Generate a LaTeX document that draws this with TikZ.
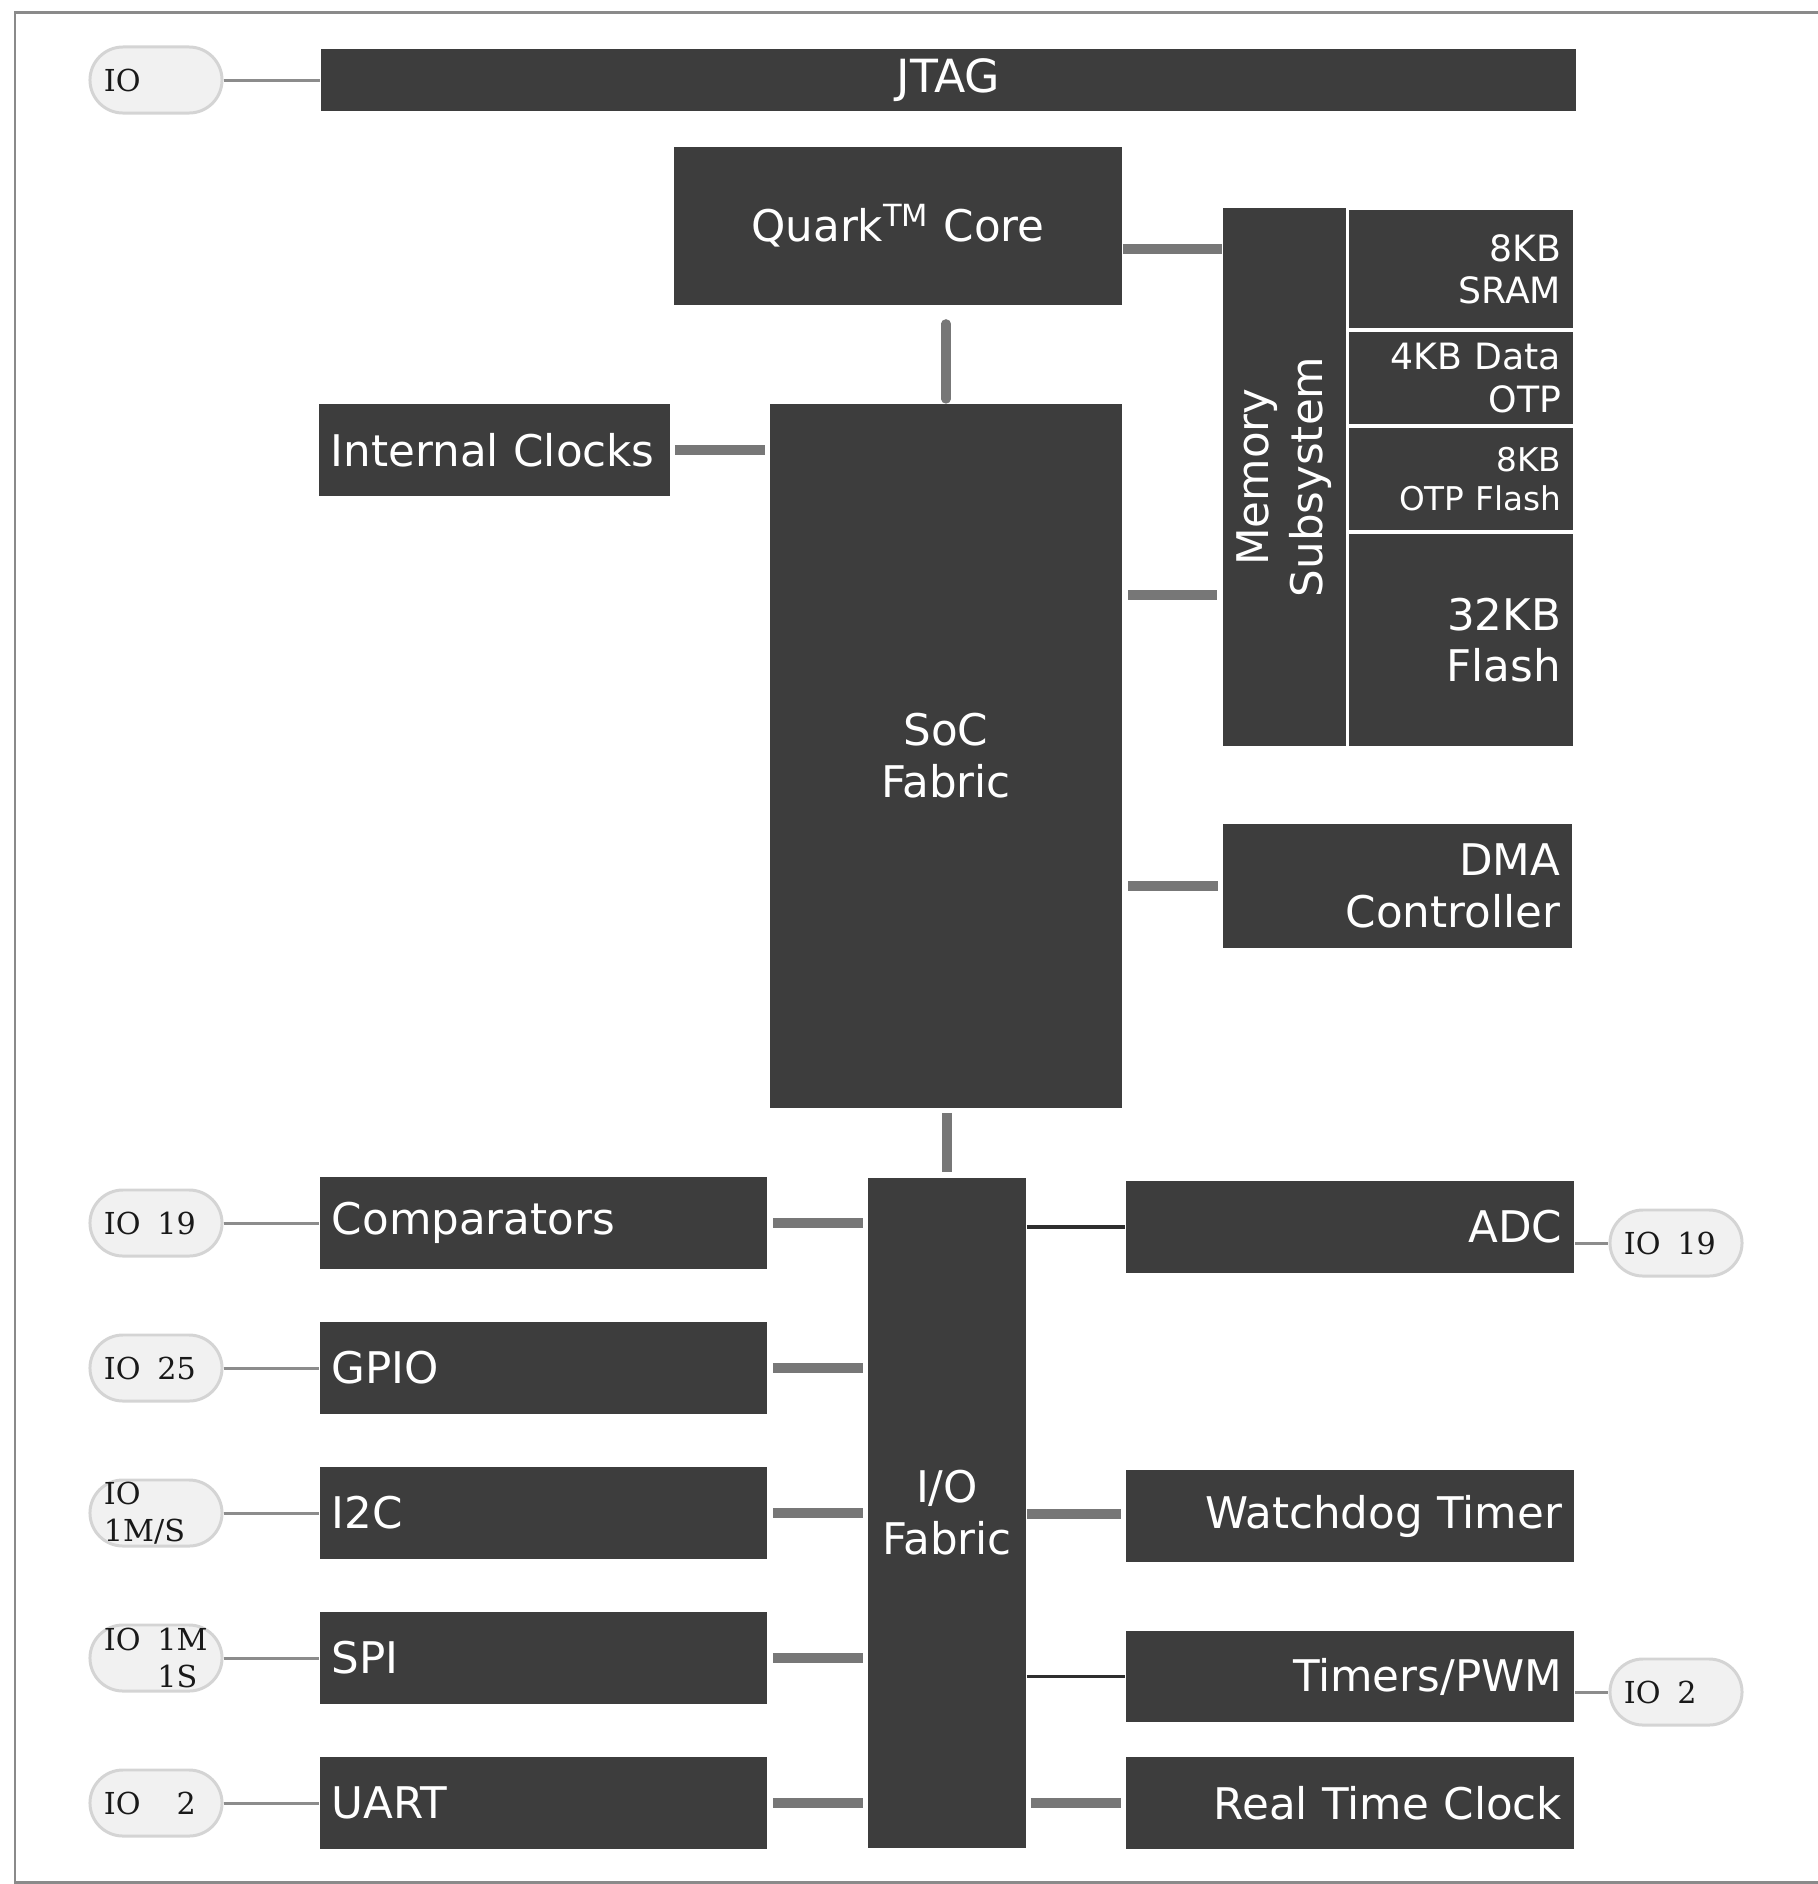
\documentclass[tikz,border=0pt]{standalone}
\usepackage{fontspec}
\setmainfont{DejaVu Sans}
\newfontfamily\pillfont{DejaVu Serif}
\definecolor{boxc}{HTML}{3D3D3D}
\definecolor{connc}{HTML}{777777}
\definecolor{thinc}{HTML}{2E2E2E}
\definecolor{pillline}{HTML}{8C8C8C}
\definecolor{pillfill}{HTML}{F1F1F1}
\definecolor{pilldraw}{HTML}{D4D4D4}
\definecolor{framec}{HTML}{8A8A8A}
\newcommand{\iogap}{\hspace{0.55em}}
\begin{document}
\begin{tikzpicture}[x=0.01cm,y=-0.01cm,
  blk/.style={fill=boxc, text=white, inner ysep=0pt, inner xsep=0.12cm,
              font=\fontsize{12.4}{14.8}\selectfont},
  lbox/.style={blk, minimum height=0.91cm, text width=4.23cm, align=left},
  rbox/.style={blk, minimum height=0.91cm, text width=4.24cm, align=right},
  membox/.style={blk, text width=2.00cm, align=right},
  pill/.style={rectangle, rounded corners=0.33cm, fill=pillfill, draw=pilldraw,
               line width=0.85pt, minimum height=0.66cm, text width=1.04cm,
               inner xsep=0.14cm, inner ysep=0pt, align=left, text=black!90,
               font=\pillfont\fontsize{8.6}{10.5}\selectfont},
  conn/.style={draw=connc, line width=2.6pt},
  darkline/.style={draw=thinc, line width=1.1pt},
  thinline/.style={draw=pillline, line width=0.85pt}]

\useasboundingbox (0,0) rectangle (1818,1884);
\draw[framec, line width=0.85pt] (1830,12) -- (15,12) -- (15,1882) -- (1830,1882);

% top
\node[pill] (pj) at (156,80) {IO};
\node[blk, minimum width=12.55cm, minimum height=0.61cm, font=\fontsize{13}{15}\selectfont] (jtag) at (948.5,80) {JTAG};

\node[blk, minimum width=4.48cm, minimum height=1.58cm] (quark) at (898,226) {Quark\textsuperscript{TM} Core};
\node[blk, minimum width=3.51cm, minimum height=0.92cm, text width=3.27cm, align=left] (clk) at (494.5,450) {\mbox{Internal Clocks}};
\node[blk, minimum width=3.52cm, minimum height=7.04cm, align=center] (soc) at (946,756) {SoC\\Fabric};

% memory
\node[blk, rotate=90, minimum width=5.38cm, minimum height=1.23cm, align=center,
      font=\fontsize{12.4}{15.4}\selectfont] (mem) at (1284.5,477) {Memory\\Subsystem};
\node[membox, minimum height=1.18cm, font=\fontsize{10.3}{12}\selectfont] (sram) at (1461,269) {8KB\\SRAM};
\node[membox, minimum height=0.92cm, font=\fontsize{10.3}{12.3}\selectfont] (dotp) at (1461,378) {4KB Data\\OTP};
\node[membox, minimum height=1.02cm, font=\fontsize{9.3}{11.3}\selectfont] (otpf) at (1461,479) {8KB\\OTP Flash};
\node[membox, minimum height=2.12cm, font=\fontsize{12.4}{14.3}\selectfont] (flash) at (1461,640) {32KB\\Flash};

\node[blk, minimum height=1.24cm, text width=3.25cm, align=right] (dma) at (1397.5,886) {DMA\\Controller};

% io fabric
\node[blk, minimum width=1.58cm, minimum height=6.70cm, align=center] (iof) at (947,1513) {I/O\\Fabric};

% left column
\node[lbox] (cmp) at (543.5,1223) {Comparators};
\node[lbox] (gpio) at (543.5,1368) {GPIO};
\node[lbox] (i2c) at (543.5,1513) {I2C};
\node[lbox] (spi) at (543.5,1658) {SPI};
\node[lbox] (uart) at (543.5,1803) {UART};

\node[pill] (p1) at (156,1223) {\mbox{IO\iogap 19}};
\node[pill] (p2) at (156,1368) {\mbox{IO\iogap 25}};
\node[pill] (p3) at (156,1513) {IO\\1M/S};
\node[pill] (p4) at (156,1658) {\mbox{IO\iogap 1M}\\\mbox{\hphantom{IO\iogap}1S}};
\node[pill] (p5) at (156,1803) {\mbox{IO\iogap\hphantom{1}2}};

% right column
\node[rbox] (adc) at (1350,1227) {ADC};
\node[rbox] (wdt) at (1350,1516) {Watchdog Timer};
\node[rbox] (tim) at (1350,1676.5) {Timers/PWM};
\node[rbox] (rtc) at (1350,1803) {Real Time Clock};

\node[pill] (pr1) at (1676,1243) {\mbox{IO\iogap 19}};
\node[pill] (pr2) at (1676,1692) {\mbox{IO\iogap 2}};

% thin pill connectors
\draw[thinline] (pj.east) -- (jtag.west |- pj.east);
\draw[thinline] (p1.east) -- (cmp.west);
\draw[thinline] (p2.east) -- (gpio.west);
\draw[thinline] (p3.east) -- (i2c.west);
\draw[thinline] (p4.east) -- (spi.west);
\draw[thinline] (p5.east) -- (uart.west);
\draw[thinline] (adc.east |- pr1.west) -- (pr1.west);
\draw[thinline] (tim.east |- pr2.west) -- (pr2.west);

% thick connectors (mem is rotated: its north anchor is its left side)
\draw[conn] (quark.east |- 0,249) -- (mem.north |- 0,249);
\draw[conn, line cap=round, shorten <=0.18cm, shorten >=0.04cm] (quark.south -| soc.north) -- (soc.north);
\draw[conn, shorten <=0.04cm, shorten >=0.04cm] (clk.east) -- (soc.west |- clk.east);
\draw[conn, shorten <=0.05cm, shorten >=0.05cm] (soc.east |- 0,595) -- (mem.north |- 0,595);
\draw[conn, shorten <=0.05cm, shorten >=0.04cm] (soc.east |- dma.west) -- (dma.west);
\draw[conn, shorten <=0.04cm, shorten >=0.05cm] (soc.south -| iof.north) -- (iof.north);

\foreach \b in {cmp,gpio,i2c,spi,uart}
  \draw[conn, shorten <=0.05cm, shorten >=0.04cm] (\b.east) -- (iof.west |- \b.east);

\draw[conn, shorten >=0.04cm] (iof.east |- 0,1514) -- (wdt.west |- 0,1514);
\draw[conn, shorten <=0.04cm, shorten >=0.04cm] (iof.east |- rtc.west) -- (rtc.west);

% thin dark connectors
\draw[darkline] (iof.east |- adc.west) -- (adc.west);
\draw[darkline] (iof.east |- tim.west) -- (tim.west);
\end{tikzpicture}
\end{document}
